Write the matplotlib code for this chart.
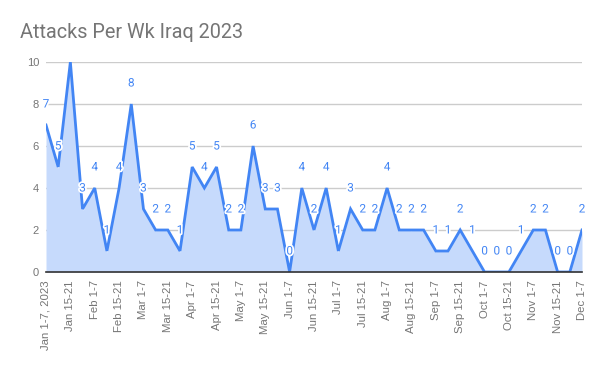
import matplotlib
matplotlib.use("Agg")
import matplotlib.pyplot as plt
import matplotlib.patheffects as pe
import numpy as np

values = [7, 5, 10, 3, 4, 1, 4, 8, 3, 2, 2, 1, 5, 4, 5, 2, 2, 6, 3, 3, 0, 4,
          2, 4, 1, 3, 2, 2, 4, 2, 2, 2, 1, 1, 2, 1, 0, 0, 0, 1, 2, 2, 0, 0, 2]
tick_labels = ["Jan 1-7, 2023", "Jan 15-21", "Feb 1-7", "Feb 15-21", "Mar 1-7",
               "Mar 15-21", "Apr 1-7", "Apr 15-21", "May 1-7", "May 15-21",
               "Jun 1-7", "Jun 15-21", "Jul 1-7", "Jul 15-21", "Aug 1-7",
               "Aug 15-21", "Sep 1-7", "Sep 15-21", "Oct 1-7", "Oct 15-21",
               "Nov 1-7", "Nov 15-21", "Dec 1-7"]
y_ticks = [0, 2, 4, 6, 8, 10]
title = "Attacks Per Wk Iraq 2023"

line_color = "#4285f4"
fill_color = "#c6dafc"
grey = "#757575"

fig = plt.figure(figsize=(6, 3.71), dpi=100)
ax = fig.add_axes([46 / 600, 1 - 272 / 371, (582 - 46) / 600, (272 - 62) / 371])

x = np.arange(len(values))
ax.fill_between(x, values, 0, color=fill_color, linewidth=0, zorder=1)
ax.plot(x, values, color=line_color, linewidth=2, zorder=3, solid_joinstyle="miter")

ax.set_xlim(0, len(values) - 1)
ax.set_ylim(0, 10)
ax.set_yticks(y_ticks)
ax.set_yticklabels([str(v) for v in y_ticks], fontfamily="Liberation Sans",
                   fontsize=8, color=grey)
ax.set_xticks(x[::2])
ax.set_xticklabels(tick_labels, rotation=90, fontfamily="Liberation Sans",
                   fontsize=8.2, color=grey)
ax.tick_params(axis="both", length=0, pad=5)
ax.tick_params(axis="x", pad=6)
ax.grid(axis="y", color="#cccccc", linewidth=1, zorder=0)
ax.set_axisbelow(True)
for s in ["top", "right", "left"]:
    ax.spines[s].set_visible(False)
ax.spines["bottom"].set_color("#333333")
ax.spines["bottom"].set_linewidth(1.2)
ax.spines["bottom"].set_zorder(4)

halo = [pe.withStroke(linewidth=2.5, foreground="white")]
for xi, v in zip(x, values):
    if v + 1 > 10.3:
        continue
    # thin leader line from point to label
    ax.plot([xi, xi], [v, v + 0.75], color="white", linewidth=1, alpha=0.8, zorder=2)
    ax.text(xi, v + 1.0, str(v), ha="center", va="center", fontsize=8.5,
            fontfamily="Roboto", color=line_color, zorder=5, path_effects=halo)

fig.text(20 / 600, 1 - 32 / 371, title, fontfamily="Roboto", fontsize=14.3,
         color=grey, ha="left", va="center")

fig.savefig("out.png", dpi=100)
